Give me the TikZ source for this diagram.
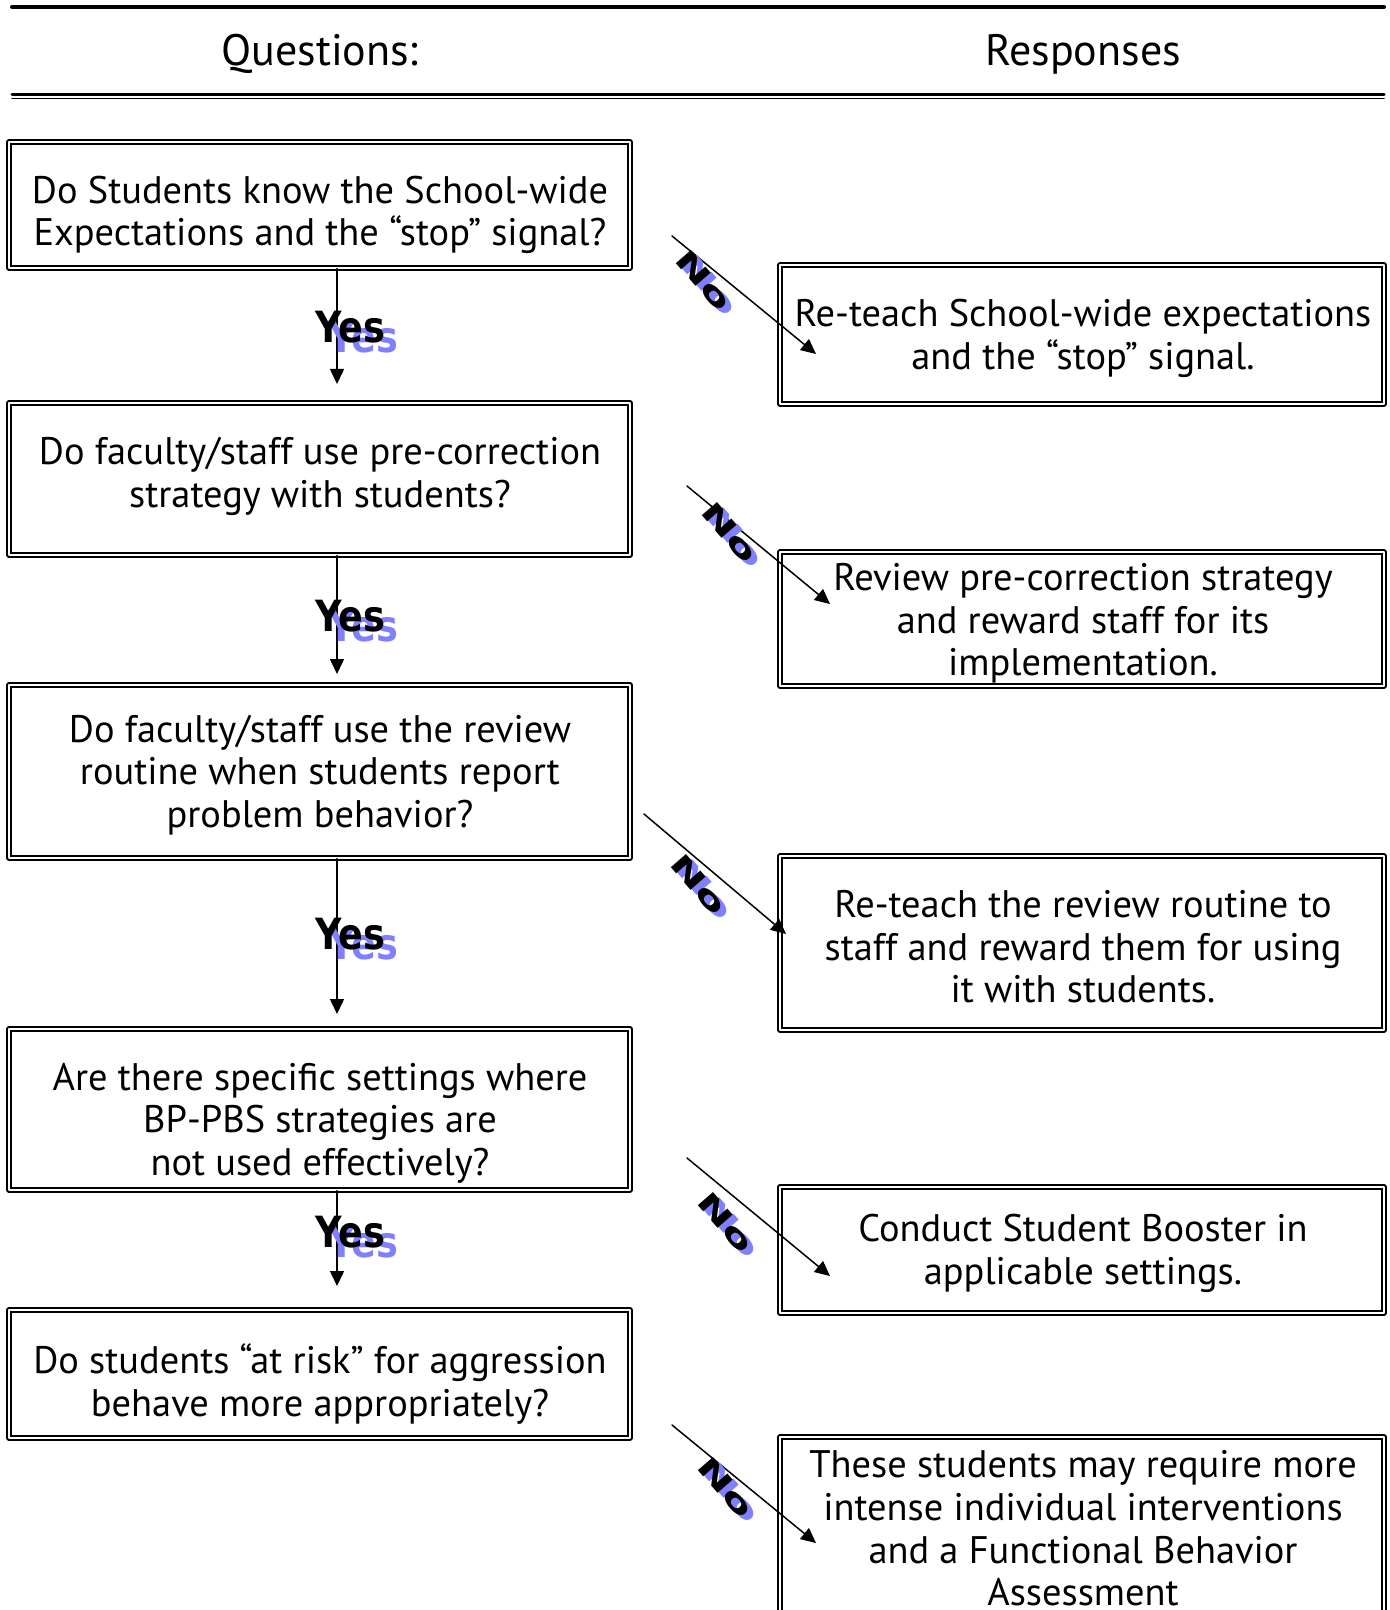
\documentclass[tikz,border=0pt]{standalone}
\usepackage{fontspec}
\setmainfont{PT Sans}
\newfontfamily\heavyfont{DejaVu Sans}
\usepackage{tikz}
\usetikzlibrary{arrows.meta}
\definecolor{shadowblue}{RGB}{128,128,255}

\tikzset{
  qbox/.style={draw,double,line width=0.8pt,double distance=1.2pt,minimum width=310.5pt,inner sep=0pt},
  rbox/.style={qbox,minimum width=302pt},
  boxtext/.style={align=center,inner sep=0pt,font=\fontsize{19.2}{21.3}\selectfont},
  yeslbl/.style={font=\heavyfont\bfseries\fontsize{21.5}{21.5}\selectfont,xscale=0.85},
  nolbl/.style={font=\heavyfont\bfseries\fontsize{23}{23}\selectfont,rotate=-49,yscale=0.6},
}

\begin{document}
\begin{tikzpicture}[line cap=round,line join=round,>={Triangle[length=7.5pt,width=7pt]},x=0.5pt,y=-0.5pt]
\clip (0,0) rectangle (1390,1610);
% header
\draw[line width=2pt] (12,7)-- (1384,7);
\draw[line width=1.5pt] (12,94.5)-- (1384,94.5);
\draw[line width=0.75pt] (12,98.5)-- (1384,98.5);
\node[font=\fontsize{22}{22}\selectfont] (hq) at (320,54) {Questions:};
\node[font=\fontsize{22}{22}\selectfont] (hr) at (1083,54) {Responses};
% questions
\node[qbox,minimum height=63pt] (q1) at (319.5,205) {};
\node[qbox,minimum height=76pt] (q2) at (319.5,479) {};
\node[qbox,minimum height=86.5pt] (q3) at (319.5,771.5) {};
\node[qbox,minimum height=80.5pt] (q4) at (319.5,1109.5) {};
\node[qbox,minimum height=64pt] (q5) at (319.5,1374) {};
\node[boxtext] (q1t) at (320,215) {Do Students know the School-wide\\Expectations and the ``stop'' signal?};
\node[boxtext] (q2t) at (320,476.5) {Do faculty/staff use pre-correction\\strategy with students?};
\node[boxtext] (q3t) at (320,775) {Do faculty/staff use the review\\routine when students report\\problem behavior?};
\node[boxtext] (q4t) at (320,1123) {Are there specific settings where\\BP-PBS strategies are\\not used effectively?};
\node[boxtext] (q5t) at (320,1384) {Do students ``at risk'' for aggression\\behave more appropriately?};
% responses
\node[rbox,minimum height=69.5pt] (r1) at (1082,334.5) {};
\node[rbox,minimum height=67pt] (r2) at (1082,619) {};
\node[rbox,minimum height=87pt] (r3) at (1082,943) {};
\node[rbox,minimum height=63pt] (r4) at (1082,1250) {};
\node[rbox,minimum height=88.5pt] (r5) at (1082,1525.5) {};
\node[boxtext] (r1t) at (1083,338.5) {Re-teach School-wide expectations\\and the ``stop'' signal.};
\node[boxtext] (r2t) at (1083,623.5) {Review pre-correction strategy\\and reward staff for its\\implementation.};
\node[boxtext] (r3t) at (1083,947) {Re-teach the review routine to\\staff and reward them for using\\it with students.};
\node[boxtext] (r4t) at (1083,1253.5) {Conduct Student Booster in\\applicable settings.};
\node[boxtext] (r5t) at (1083,1528.5) {These students may require more\\intense individual interventions\\and a Functional Behavior\\Assessment};
% yes arrows
\coordinate (y1) at (337,384);
\coordinate (y2) at (337,674);
\coordinate (y3) at (337,1014);
\coordinate (y4) at (337,1286);
\draw[line width=0.75pt,->] (q1.south -| y1)-- (y1);
\draw[line width=0.75pt,->] (q2.south -| y2)-- (y2);
\draw[line width=0.75pt,->] (q3.south -| y3)-- (y3);
\draw[line width=0.75pt,->] (q4.south -| y4)-- (y4);
\node[yeslbl,shadowblue] (ys1) at (363,337) {Yes};
\node[yeslbl] (yl1) at (350,327) {Yes};
\node[yeslbl,shadowblue] (ys2) at (363,626) {Yes};
\node[yeslbl] (yl2) at (350,616) {Yes};
\node[yeslbl,shadowblue] (ys3) at (363,944) {Yes};
\node[yeslbl] (yl3) at (350,934) {Yes};
\node[yeslbl,shadowblue] (ys4) at (363,1242) {Yes};
\node[yeslbl] (yl4) at (350,1232) {Yes};
% no arrows
\coordinate (n1a) at (672,236);
\coordinate (n1b) at (816,354);
\coordinate (n2a) at (687,486);
\coordinate (n2b) at (830,604);
\coordinate (n3a) at (644,814);
\coordinate (n3b) at (786,934);
\coordinate (n4a) at (687,1158);
\coordinate (n4b) at (830,1276);
\coordinate (n5a) at (672,1425);
\coordinate (n5b) at (816,1543);
\draw[line width=0.75pt,->] (n1a)-- (n1b);
\draw[line width=0.75pt,->] (n2a)-- (n2b);
\draw[line width=0.75pt,->] (n3a)-- (n3b);
\draw[line width=0.75pt,->] (n4a)-- (n4b);
\draw[line width=0.75pt,->] (n5a)-- (n5b);
\node[nolbl,shadowblue] (ns1) at (710,285) {No};
\node[nolbl] (nl1) at (704,280) {No};
\node[nolbl,shadowblue] (ns2) at (736,537) {No};
\node[nolbl] (nl2) at (730,532) {No};
\node[nolbl,shadowblue] (ns3) at (705,889) {No};
\node[nolbl] (nl3) at (699,884) {No};
\node[nolbl,shadowblue] (ns4) at (732,1227) {No};
\node[nolbl] (nl4) at (726,1222) {No};
\node[nolbl,shadowblue] (ns5) at (732,1492) {No};
\node[nolbl] (nl5) at (726,1487) {No};
\end{tikzpicture}
\end{document}
